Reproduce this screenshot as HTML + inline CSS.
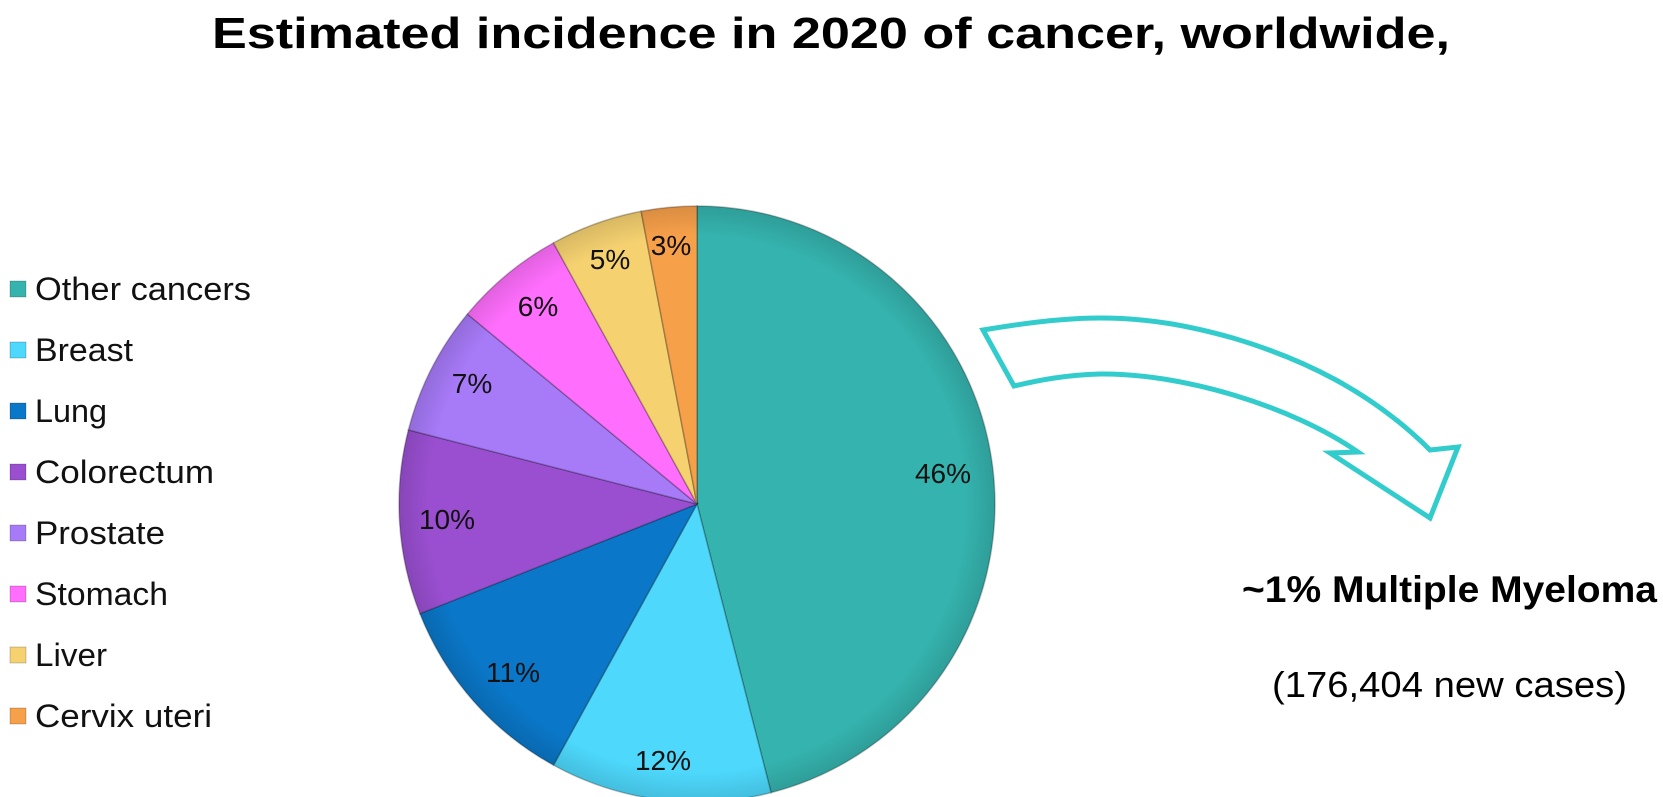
<!DOCTYPE html>
<html><head><meta charset="utf-8"><style>
html,body{margin:0;padding:0;background:#fff;}
svg{display:block;font-family:"Liberation Sans",sans-serif;}
</style></head><body>
<svg id="s" width="1663" height="797" viewBox="0 0 1663 797" xmlns="http://www.w3.org/2000/svg">
<defs>
<radialGradient id="sh" cx="50%" cy="50%" r="50%">
<stop offset="0.9" stop-color="#000" stop-opacity="0"/>
<stop offset="1" stop-color="#000" stop-opacity="0.12"/>
</radialGradient>
</defs>
<text x="831" y="48" text-anchor="middle" font-size="44" font-weight="bold" textLength="1238" lengthAdjust="spacingAndGlyphs">Estimated incidence in 2020 of cancer, worldwide,</text>
<g id="pie"></g>
<circle cx="697" cy="504" r="298" fill="url(#sh)"/>
<g font-size="28" fill="#111" text-anchor="middle">
<text x="943" y="483">46%</text>
<text x="663" y="770">12%</text>
<text x="513" y="682">11%</text>
<text x="447" y="529">10%</text>
<text x="472" y="393">7%</text>
<text x="538" y="316">6%</text>
<text x="610" y="269">5%</text>
<text x="671" y="255">3%</text>
</g>
<g id="leg" font-size="32" fill="#111"></g>
<path d="M983,330 C1030,322 1070,318 1100,318 C1150,318 1190,326 1233,338 C1300,358 1370,390 1430,450 L1458,447 L1430,518 L1330,453 L1358,452 C1290,405 1180,373 1100,374 C1065,375 1040,380 1014,386 Z" fill="none" stroke="#33CCCC" stroke-width="5" stroke-linejoin="miter"/>
<text x="1242" y="602" font-size="37" font-weight="bold" textLength="415" lengthAdjust="spacingAndGlyphs">~1% Multiple Myeloma</text>
<text x="1272" y="697" font-size="36" textLength="355" lengthAdjust="spacingAndGlyphs">(176,404 new cases)</text>
</svg>
<script>
var data=[["Other cancers",46,"#35B3AE",216],["Breast",12,"#4DD8FC",98],["Lung",11,"#0A77C8",72],["Colorectum",10,"#9A4FD1",179],["Prostate",7,"#A77AF8",130],["Stomach",6,"#FF6EFD",133],["Liver",5,"#F5D170",72],["Cervix uteri",3,"#F7A04A",177]];
var cx=697,cy=504,r=298,a=0,g=document.getElementById("pie"),ns="http://www.w3.org/2000/svg";
data.forEach(function(d){
 var a2=a+d[1]/100*2*Math.PI;
 var x1=cx+r*Math.sin(a),y1=cy-r*Math.cos(a),x2=cx+r*Math.sin(a2),y2=cy-r*Math.cos(a2);
 var p=document.createElementNS(ns,"path");
 p.setAttribute("d","M"+cx+","+cy+" L"+x1+","+y1+" A"+r+","+r+" 0 "+((a2-a)>Math.PI?1:0)+" 1 "+x2+","+y2+" Z");
 p.setAttribute("fill",d[2]);p.setAttribute("stroke","rgba(0,0,0,0.25)");p.setAttribute("stroke-width","1.5");
 g.appendChild(p);a=a2;
});
var L=document.getElementById("leg"),ys=[289,350,411,472,533,594,655,716];
data.forEach(function(d,i){
 var rc=document.createElementNS(ns,"rect");
 rc.setAttribute("x",10);rc.setAttribute("y",ys[i]-8);rc.setAttribute("width",16);rc.setAttribute("height",16);
 rc.setAttribute("fill",d[2]);rc.setAttribute("stroke","rgba(0,0,0,0.2)");L.appendChild(rc);
 var t=document.createElementNS(ns,"text");t.setAttribute("x",35);t.setAttribute("y",ys[i]+11);
 t.setAttribute("textLength",d[3]);t.setAttribute("lengthAdjust","spacingAndGlyphs");
 t.textContent=d[0];L.appendChild(t);
});
</script>
</body></html>
